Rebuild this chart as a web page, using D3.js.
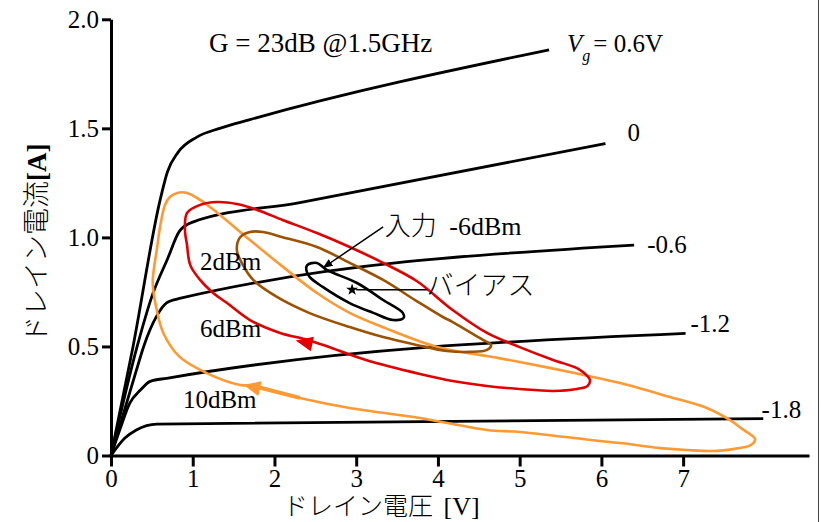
<!DOCTYPE html>
<html>
<head>
<meta charset="utf-8">
<script src="https://cdn.jsdelivr.net/npm/d3@7"></script>
<style>
  body { margin: 0; background: #fff; }
  svg { display: block; }
  text { font-family: "Liberation Serif", "Times New Roman", serif; fill: #000; }
  .jp { font-family: "Noto Sans CJK JP", sans-serif; font-weight: 300; }
</style>
</head>
<body>
<svg id="chart" width="821" height="522"></svg>
<script>
// ---- data (drain voltage [V], drain current [A]) ----
const xTicks = [0, 1, 2, 3, 4, 5, 6, 7];
const yTicks = [0, 0.5, 1.0, 1.5, 2.0];
const yTickLabels = ["0", "0.5", "1.0", "1.5", "2.0"];

// Id-Vd characteristics for each gate voltage
const ivVg06  = [[0,0],[0.27,0.50],[0.60,1.17],[0.69,1.30],[0.82,1.39],[1.05,1.46],[1.33,1.50],[1.70,1.54],[5.36,1.86]];
const ivVg0   = [[0,0],[0.32,0.50],[0.51,0.74],[0.69,0.90],[0.84,1.03],[1.00,1.07],[2.31,1.16],[6.05,1.43]];
const ivVgM06 = [[0,0],[0.31,0.39],[0.40,0.50],[0.56,0.64],[0.68,0.70],[0.84,0.72],[6.40,0.965]];
const ivVgM12 = [[0,0],[0.11,0.12],[0.23,0.24],[0.36,0.30],[0.48,0.34],[0.68,0.354],[7.03,0.56]];
const ivVgM18 = [[0,0],[0.17,0.08],[0.31,0.117],[0.56,0.144],[7.98,0.169]];
const gateLabels = ["0", "-0.6", "-1.2", "-1.8"];

// load lines (dynamic loci) for each input power
const loopM6dBm = [[2.40,0.873],[2.52,0.883],[2.64,0.851],[3.01,0.791],[3.33,0.713],[3.57,0.654],[3.58,0.631],
  [3.45,0.621],[3.21,0.654],[2.92,0.699],[2.59,0.773],[2.43,0.819],[2.39,0.850]];
const loop2dBm = [[1.58,1.001],[1.70,1.025],[1.86,1.025],[2.10,1.001],[2.52,0.956],[2.92,0.883],[3.33,0.805],
  [3.74,0.708],[4.06,0.635],[4.18,0.612],[4.55,0.530],[4.65,0.507],[4.60,0.484],[4.39,0.475],[4.11,0.479],
  [3.74,0.507],[3.33,0.543],[2.92,0.589],[2.43,0.653],[2.03,0.727],[1.74,0.805],[1.60,0.883],[1.54,0.942]];
const loop6dBm = [[0.93,1.112],[1.09,1.149],[1.30,1.162],[1.54,1.153],[1.79,1.126],[2.10,1.080],[2.52,1.020],
  [2.92,0.956],[3.33,0.883],[3.74,0.800],[4.18,0.667],[4.60,0.562],[5.00,0.497],[5.41,0.438],[5.70,0.401],
  [5.79,0.378],[5.86,0.346],[5.83,0.319],[5.70,0.305],[5.41,0.296],[5.00,0.305],[4.60,0.319],[4.18,0.342],
  [3.78,0.374],[3.12,0.438],[2.70,0.493],[2.41,0.530],[2.07,0.562],[1.70,0.621],[1.42,0.699],[1.25,0.745],
  [1.09,0.805],[0.97,0.873],[0.93,0.965],[0.905,1.034]];
const loop10dBm = [[0.81,1.204],[0.93,1.204],[1.09,1.172],[1.30,1.113],[1.70,0.988],[2.10,0.866],[2.52,0.745],
  [2.92,0.654],[3.35,0.585],[3.99,0.498],[4.60,0.456],[5.00,0.429],[5.61,0.383],[6.23,0.332],[6.84,0.268],
  [7.29,0.218],[7.57,0.163],[7.72,0.122],[7.88,0.076],[7.83,0.048],[7.69,0.034],[7.42,0.021],[7.05,0.025],
  [6.72,0.034],[6.23,0.057],[5.87,0.071],[5.00,0.108],[4.60,0.117],[3.78,0.172],[2.92,0.218],[2.31,0.264],
  [1.74,0.319],[1.58,0.323],[1.17,0.378],[0.84,0.452],[0.64,0.562],[0.56,0.667],[0.51,0.791],[0.53,0.869],
  [0.56,0.942],[0.60,1.048],[0.66,1.148],[0.72,1.185]];
const biasPoint = [2.95, 0.76];

// ---- layout ----
const svg = d3.select("#chart");
const x = d3.scaleLinear().domain([0, 8.54]).range([111, 809]);
const y = d3.scaleLinear().domain([0, 2]).range([455.5, 19.3]);

const ivLine = d3.line().x(d => x(d[0])).y(d => y(d[1])).curve(d3.curveMonotoneX);
const loopLine = d3.line().x(d => x(d[0])).y(d => y(d[1])).curve(d3.curveCatmullRomClosed.alpha(0.5));

// right frame edge
svg.append("line").attr("x1", 818.5).attr("x2", 818.5).attr("y1", 0).attr("y2", 522)
  .attr("stroke", "#444").attr("stroke-width", 1);

// axes
const xAxis = svg.append("g").attr("transform", `translate(0,${y(0)})`)
  .call(d3.axisBottom(x).tickValues(xTicks).tickSize(11).tickPadding(3).tickSizeOuter(0));
const yAxis = svg.append("g").attr("transform", `translate(${x(0)},0)`)
  .call(d3.axisLeft(y).tickValues(yTicks).tickFormat((d, i) => yTickLabels[i]).tickSize(9).tickPadding(3).tickSizeOuter(0));
[xAxis, yAxis].forEach(g => {
  g.attr("font-family", null).attr("font-size", null);
  g.select(".domain").attr("stroke", "#000").attr("stroke-width", 3);
  g.selectAll(".tick line").attr("stroke", "#000").attr("stroke-width", 3);
  g.selectAll(".tick text").style("font-family", "'Liberation Serif', serif").style("font-size", "25px").attr("fill", "#000");
});

// Id-Vd curves
[ivVg06, ivVg0, ivVgM06, ivVgM12, ivVgM18].forEach(c => {
  svg.append("path").attr("d", ivLine(c)).attr("fill", "none")
    .attr("stroke", "#000").attr("stroke-width", 2.8).attr("stroke-linejoin", "round");
});

// load loops
const loops = [
  [loop10dBm, "#ff9933"],
  [loop6dBm, "#e00000"],
  [loop2dBm, "#9c5200"],
  [loopM6dBm, "#000"]
];
loops.forEach(([pts, col]) => {
  svg.append("path").attr("d", loopLine(pts)).attr("fill", "none")
    .attr("stroke", col).attr("stroke-width", 2.6).attr("stroke-linejoin", "round");
});

// direction arrowheads on the loops
function arrowHead(tip, from, col) {
  const tx = x(tip[0]), ty = y(tip[1]);
  const a = Math.atan2(ty - y(from[1]), tx - x(from[0]));
  const len = 17, hw = 7.5;
  const bx = tx - len * Math.cos(a), by = ty - len * Math.sin(a);
  const p = [[tx, ty],
    [bx + hw * Math.sin(a), by - hw * Math.cos(a)],
    [bx - hw * Math.sin(a), by + hw * Math.cos(a)]];
  svg.append("path").attr("d", d3.line()(p) + "Z").attr("fill", col);
}
arrowHead([1.62, 0.324], [2.31, 0.264], "#ff9933");
arrowHead([2.26, 0.527], [2.70, 0.493], "#e00000");
svg.append("path").attr("d", d3.line().x(d => x(d[0])).y(d => y(d[1]))([[1.74, 0.319], [2.31, 0.264]]))
  .attr("stroke", "#ff9933").attr("stroke-width", 4).attr("fill", "none");

// bias point and leader
svg.append("line").attr("x1", x(biasPoint[0]) + 4).attr("y1", y(biasPoint[1]))
  .attr("x2", x(3.87)).attr("y2", y(biasPoint[1])).attr("stroke", "#000").attr("stroke-width", 1.5);
svg.append("path").attr("d", d3.symbol(d3.symbolStar, 45)())
  .attr("transform", `translate(${x(biasPoint[0])},${y(biasPoint[1])})`).attr("fill", "#000");

// input arrow
svg.append("defs").append("marker").attr("id", "ah").attr("viewBox", "0 0 10 10")
  .attr("refX", 9).attr("refY", 5).attr("markerWidth", 10).attr("markerHeight", 10)
  .attr("markerUnits", "userSpaceOnUse").attr("orient", "auto")
  .append("path").attr("d", "M0,1L10,5L0,9Z").attr("fill", "#000");
svg.append("line").attr("x1", x(3.33)).attr("y1", y(1.048)).attr("x2", x(2.60)).attr("y2", y(0.862))
  .attr("stroke", "#000").attr("stroke-width", 1.5).attr("marker-end", "url(#ah)");

// text annotations
const fs = 25;
svg.append("text").attr("x", x(1.20)).attr("y", y(1.851)).attr("font-size", 27)
  .text("G = 23dB @1.5GHz");

const vg = svg.append("text").attr("x", x(5.58)).attr("y", y(1.851)).attr("font-size", 25);
vg.append("tspan").attr("font-style", "italic").text("V");
vg.append("tspan").attr("font-style", "italic").attr("font-size", 16).attr("dy", 9).text("g");
vg.append("tspan").attr("dy", -9).attr("dx", 3).text("= 0.6V");

const gatePos = [[6.32, 1.442], [6.56, 0.928], [7.09, 0.566], [7.96, 0.172]];
gateLabels.forEach((t, i) => {
  svg.append("text").attr("x", x(gatePos[i][0])).attr("y", y(gatePos[i][1])).attr("font-size", fs).text(t);
});

const powerLabels = [["2dBm", 1.09, 0.851], ["6dBm", 1.09, 0.543], ["10dBm", 0.88, 0.218]];
powerLabels.forEach(([t, vx, vy]) => {
  svg.append("text").attr("x", x(vx)).attr("y", y(vy)).attr("font-size", fs).text(t);
});

const inp = svg.append("text").attr("x", x(3.35)).attr("y", y(1.011));
inp.append("tspan").attr("class", "jp").attr("font-size", 26).text("入力");
inp.append("tspan").attr("font-size", 26).attr("dx", 6).text(" -6dBm");

svg.append("text").attr("class", "jp").attr("x", x(3.86)).attr("y", y(0.736)).attr("font-size", 27).text("バイアス");

// axis titles
const xt = svg.append("text").attr("x", 283).attr("y", 515);
xt.append("tspan").attr("class", "jp").attr("font-size", 25).text("ドレイン電圧");
xt.append("tspan").attr("font-size", 26).attr("dx", 4).text(" [V]");

const yt = svg.append("text").attr("transform", "translate(46,343) rotate(-90)");
yt.append("tspan").attr("class", "jp").attr("font-size", 27).text("ドレイン電流");
yt.append("tspan").attr("font-size", 27).attr("font-weight", "bold").text("[A]");
</script>
</body>
</html>
